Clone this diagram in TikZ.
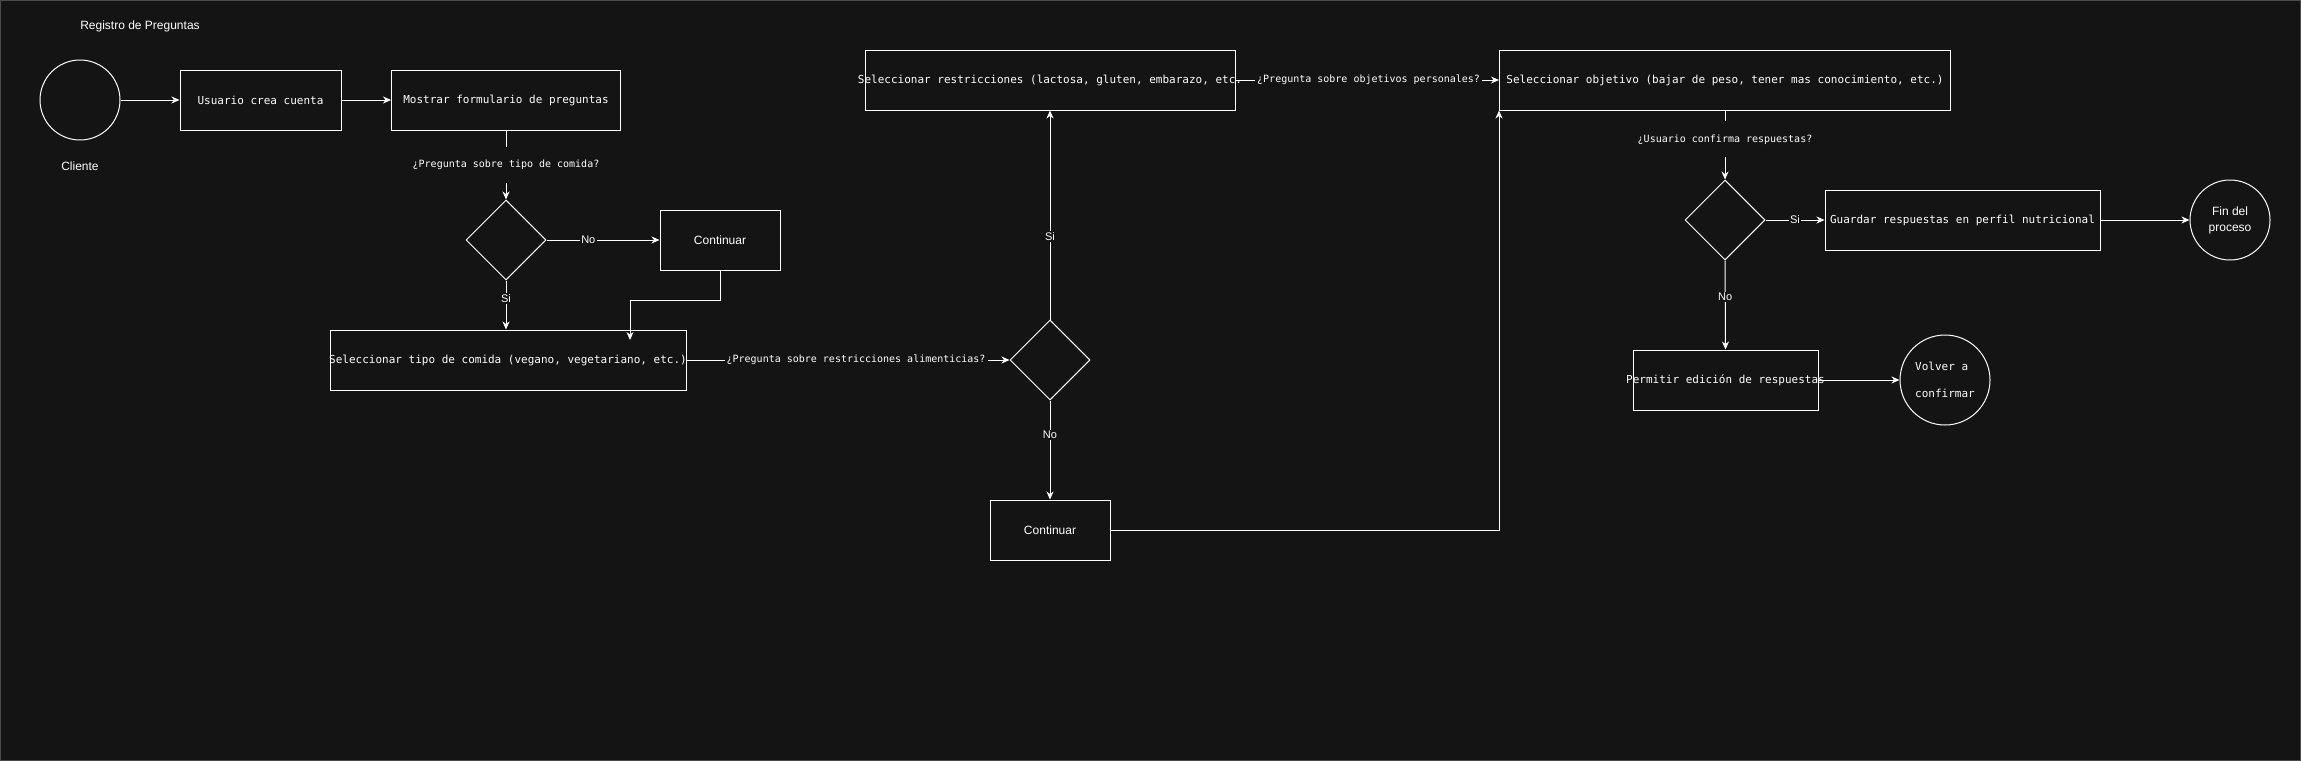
\documentclass[tikz,border=0pt]{standalone}
\usepackage{fontspec}
\setmainfont{Liberation Sans}
\newfontfamily\monof{DejaVu Sans Mono}
\usetikzlibrary{shapes.geometric,arrows.meta}
\definecolor{bg}{RGB}{20,20,20}
\definecolor{framec}{RGB}{75,75,75}
\begin{document}
\begin{tikzpicture}[x=1pt,y=-1pt,
  every node/.style={text=white},
  box/.style={draw=white,line width=1pt,rectangle,inner sep=0pt,minimum height=60pt,font=\monof\fontsize{11}{13}\selectfont},
  sbox/.style={box,font=\fontsize{12}{14}\selectfont},
  dec/.style={draw=white,line width=1pt,diamond,minimum width=80pt,minimum height=80pt,inner sep=0pt},
  term/.style={draw=white,line width=1pt,circle,inner sep=0pt},
  conn/.style={draw=white,line width=1pt,-{Stealth[length=8pt,width=7pt,inset=2.5pt]}},
  qlab/.style={fill=bg,font=\monof\fontsize{10}{12}\selectfont,inner sep=2pt},
  vqlab/.style={qlab,minimum height=36pt},
  yn/.style={fill=bg,font=\fontsize{11}{13}\selectfont,inner sep=1.5pt},
  stext/.style={font=\fontsize{12}{14}\selectfont}
]
\fill[bg] (0,0) rectangle (2301,761);
\draw[framec,line width=1pt] (0.5,0.5) rectangle (2300.5,760.5);
\useasboundingbox (0,0) rectangle (2301,761);

% nodes
\node[stext] (title) at (140,26) {Registro de Preguntas};
\node[term,minimum size=80pt] (cliente) at (80,100) {};
\node[stext] (clientelbl) at (80,166) {Cliente};
\node[box,minimum width=161pt] (usuario) at (260.5,100) {Usuario crea cuenta};
\node[box,minimum width=229pt] (mostrar) at (506,100) {Mostrar formulario de preguntas};
\node[dec] (d1) at (506,240) {};
\node[sbox,minimum width=120pt] (cont1) at (720,240) {Continuar};
\node[box,minimum width=356pt] (tipo) at (508,360) {\makebox[0pt]{Seleccionar tipo de comida (vegano, vegetariano, etc.)}};
\coordinate (t1) at (630,340);
\node[dec] (d2) at (1050,360) {};
\node[sbox,minimum width=120pt] (cont2) at (1050,530) {Continuar};
\node[box,minimum width=370pt] (restr) at (1050,80) {\makebox[0pt]{Seleccionar restricciones (lactosa, gluten, embarazo, etc.}};
\node[box,minimum width=451pt] (obj) at (1725,80) {\makebox[0pt]{Seleccionar objetivo (bajar de peso, tener mas conocimiento, etc.)}};
\node[dec] (d3) at (1725,220) {};
\node[box,minimum width=275pt] (guardar) at (1962.5,220) {\makebox[0pt]{Guardar respuestas en perfil nutricional}};
\node[term,minimum size=80pt,align=center,font=\fontsize{12}{16}\selectfont] (fin) at (2230,220) {Fin del\\proceso};
\node[box,minimum width=185pt] (permitir) at (1725.5,380) {\makebox[0pt]{Permitir edición de respuestas}};
\node[term,minimum size=90pt,align=left,font=\monof\fontsize{11}{27}\selectfont] (volver) at (1945,380) {Volver a\\confirmar};

% connectors
\draw[conn] (cliente) -- (usuario);
\draw[conn] (usuario) -- (mostrar);
\draw[conn] (mostrar.south) -- node[vqlab]{¿Pregunta sobre tipo de comida?} (d1.north);
\draw[conn] (d1.east) -- node[yn,pos=0.37]{No} (cont1.west);
\draw[conn] (d1.south) -- node[yn,pos=0.36]{Si} (d1.south |- tipo.north);
\draw[conn] (cont1.south) -- ++(0,30) -| (t1);
\draw[conn] (tipo.east) -- node[qlab,pos=0.525]{¿Pregunta sobre restricciones alimenticias?} (d2.west);
\draw[conn] (d2.north) -- node[yn,pos=0.395]{Si} (d2.north |- restr.south);
\draw[conn] (d2.south) -- node[yn,pos=0.35]{No} (cont2.north);
\draw[conn] (cont2.east) -| (obj.south west);
\draw[conn] (restr.east) -- node[qlab,pos=0.505]{¿Pregunta sobre objetivos personales?} (obj.west);
\draw[conn] (obj.south) -- node[vqlab,pos=0.42]{¿Usuario confirma respuestas?} (d3.north);
\draw[conn] (d3.east) -- node[yn]{Si} (guardar.west);
\draw[conn] (guardar) -- (fin);
\draw[conn] (d3.south) -- node[yn,pos=0.41]{No} (permitir.north);
\draw[conn] (permitir) -- (volver);
\end{tikzpicture}
\end{document}
